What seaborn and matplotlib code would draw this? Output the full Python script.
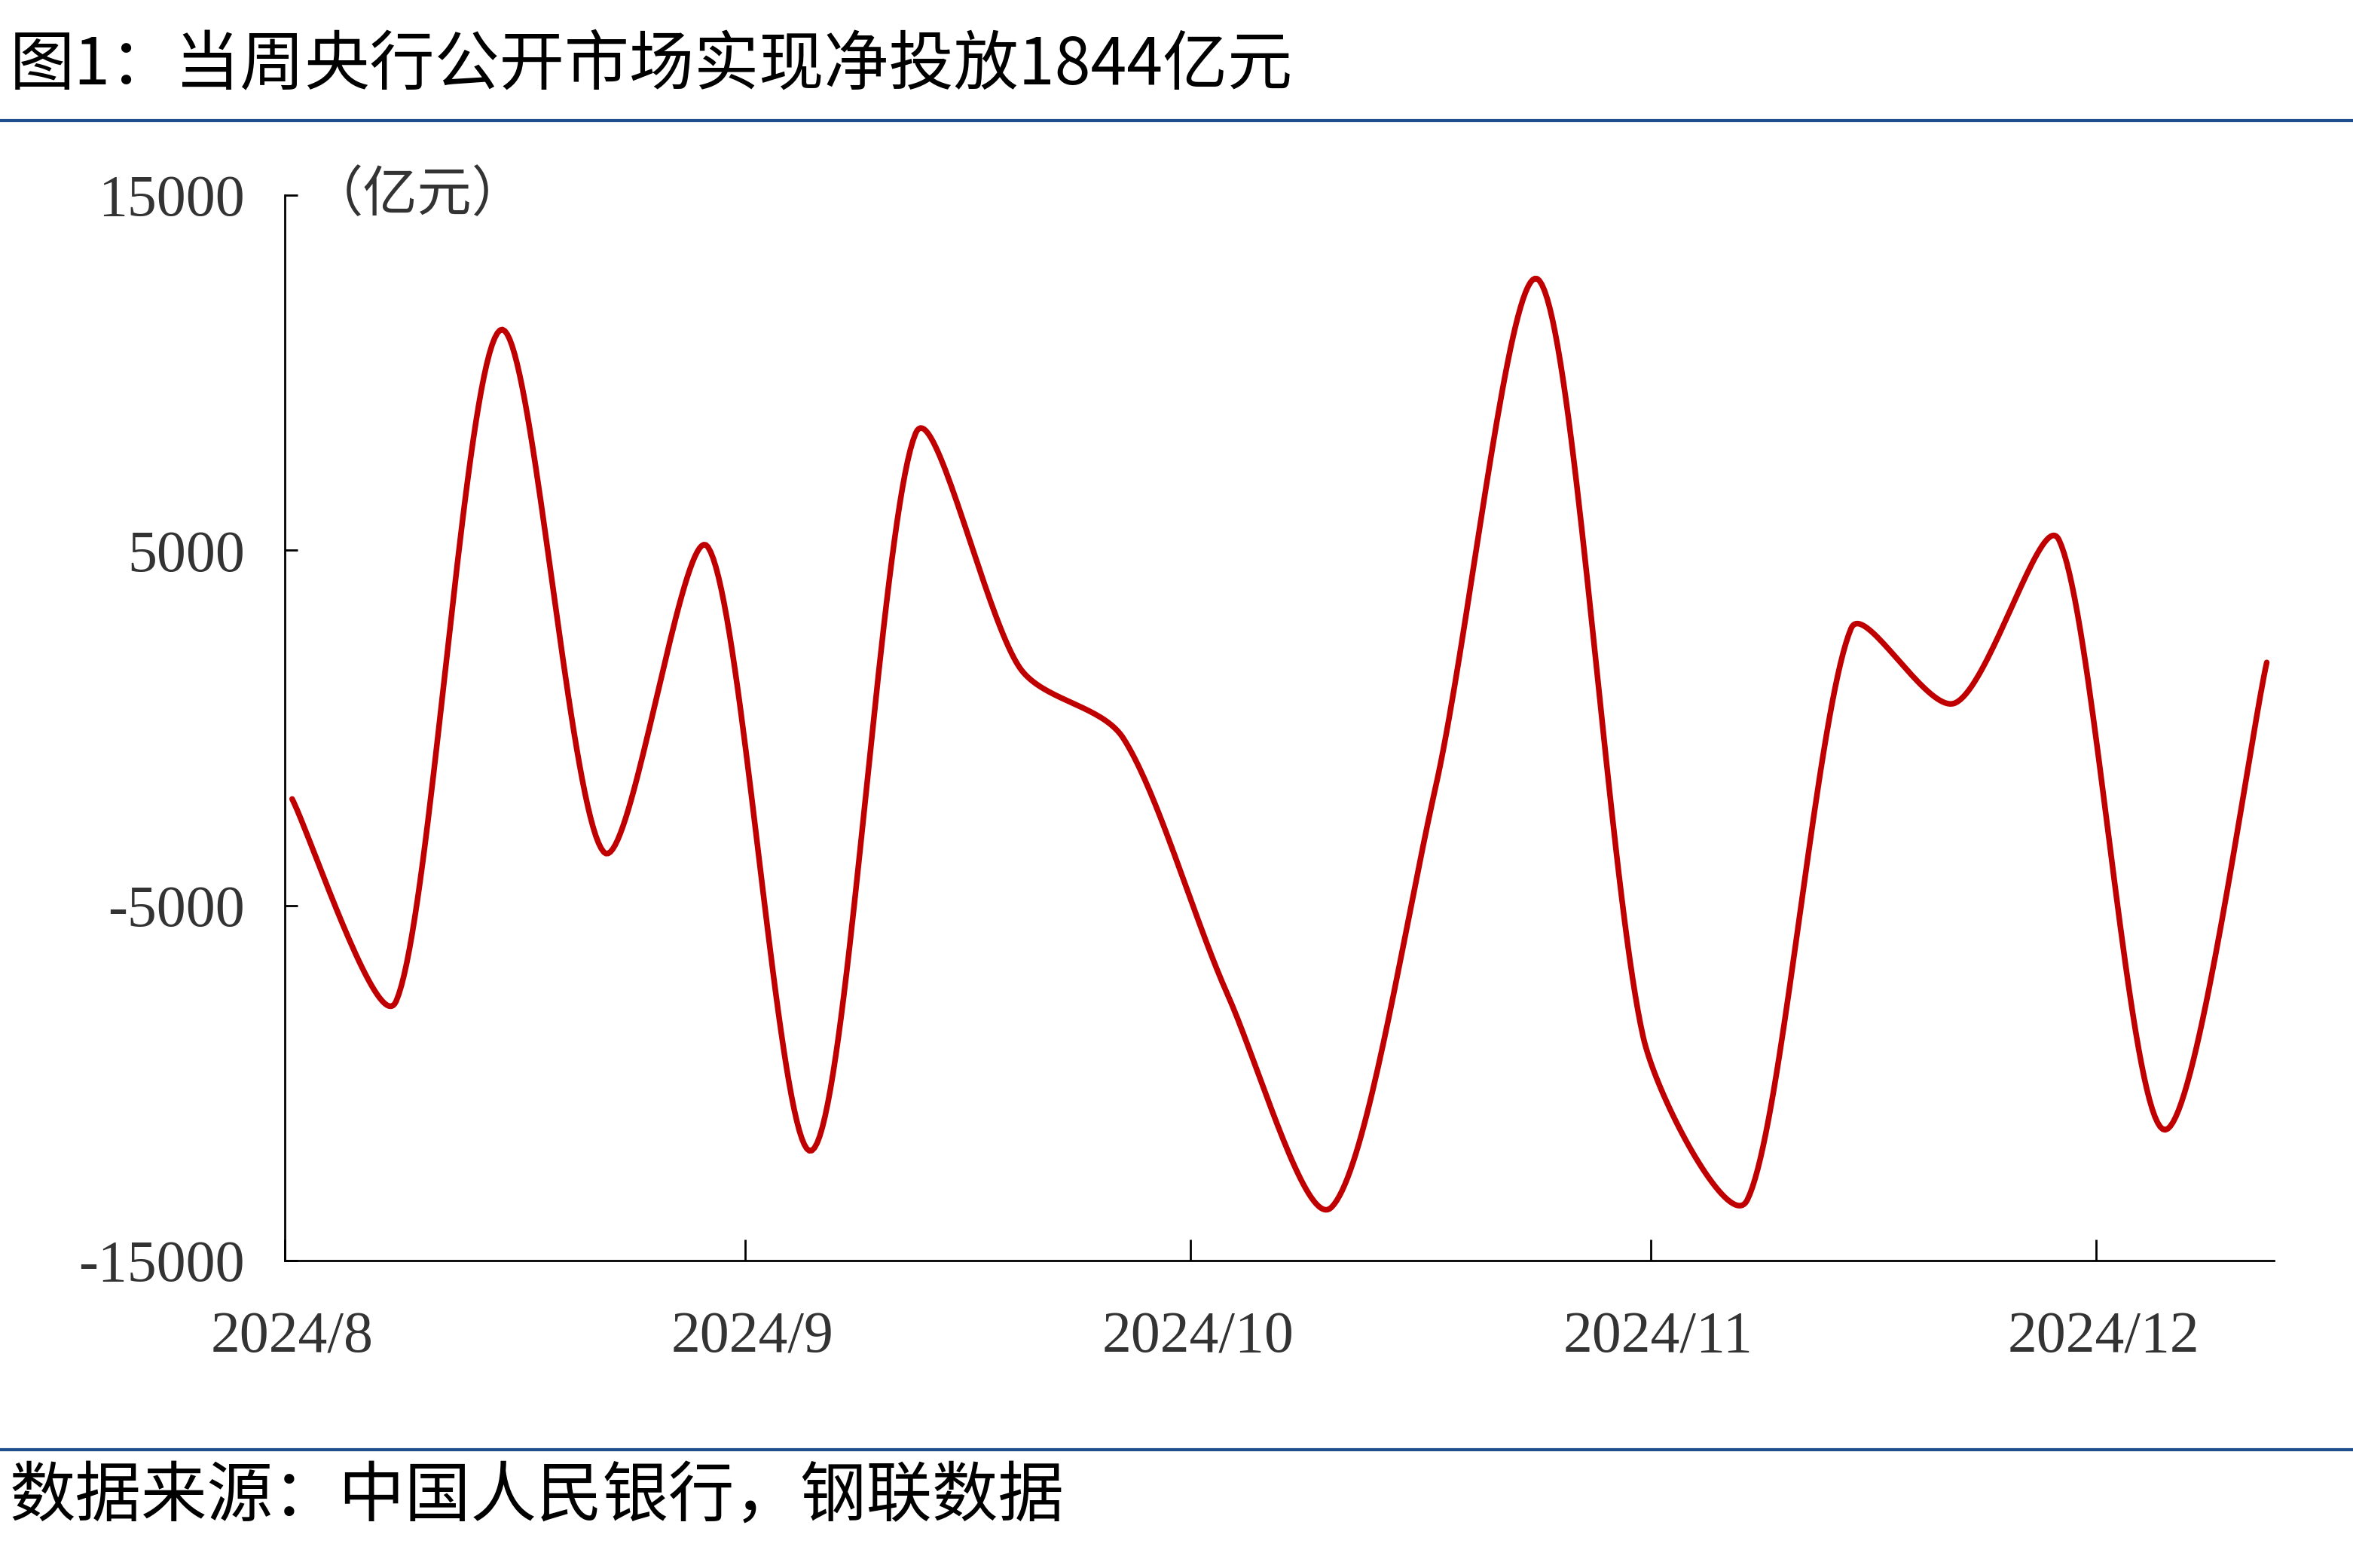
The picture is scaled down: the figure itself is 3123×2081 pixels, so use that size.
import numpy as np
import pandas as pd
import matplotlib
matplotlib.use("Agg")
import matplotlib.pyplot as plt
import matplotlib.dates as mdates
from matplotlib.lines import Line2D
from matplotlib.transforms import ScaledTranslation
import seaborn as sns

# weekly net injection of PBoC open market operations (100 mn yuan)
weeks = ["2024-08-01", "2024-08-08", "2024-08-15", "2024-08-22", "2024-08-29",
         "2024-09-05", "2024-09-12", "2024-09-19", "2024-09-26", "2024-10-03",
         "2024-10-10", "2024-10-17", "2024-10-24", "2024-10-31", "2024-11-07",
         "2024-11-14", "2024-11-21", "2024-11-28", "2024-12-05", "2024-12-12"]
net_injection = [-2000, -7700, 11200, -3500, 5100,
                 -11900, 8300, 1700, -300, -7500,
                 -13500, -1700, 12600, -8700, -13300,
                 2800, 700, 5300, -11300, 1844]

title = "图1：当周央行公开市场实现净投放1844亿元"
source = "数据来源：中国人民银行，钢联数据"
unit = "（亿元）"
y_ticks = [-15000, -5000, 5000, 15000]
x_range = ["2024-08-01", "2024-12-13"]

red = "#C00000"
blue = "#1F4E8C"
grey = "#333333"


def smooth(x, y, sx=9.9, sy=1 / 42.25, n=40):
    # excel-like smoothed line: bezier segments, handles shortened next to short segments
    P = np.column_stack([np.asarray(x, float) * sx, np.asarray(y, float) * sy])
    m = len(P)
    cin = P.copy()
    cout = P.copy()
    for i in range(m):
        p0 = P[max(i - 1, 0)]
        p2 = P[min(i + 1, m - 1)]
        tan = (p2 - p0) / 6
        d01 = np.hypot(*(P[i] - p0))
        d12 = np.hypot(*(p2 - P[i]))
        tot = d01 + d12
        if tot == 0:
            continue
        cout[i] = P[i] + tan * min(1.0, 2 * d12 / tot)
        cin[i] = P[i] - tan * min(1.0, 2 * d01 / tot)
    t = np.linspace(0, 1, n)[:, None]
    segs = []
    for i in range(m - 1):
        b = ((1 - t) ** 3 * P[i] + 3 * (1 - t) ** 2 * t * cout[i]
             + 3 * (1 - t) * t ** 2 * cin[i + 1] + t ** 3 * P[i + 1])
        segs.append(b)
    b = np.vstack(segs)
    return b[:, 0] / sx, b[:, 1] / sy


sns.set_style("white")
plt.rcParams["font.family"] = ["Liberation Serif", "Noto Sans CJK SC", "DejaVu Sans"]
plt.rcParams["axes.unicode_minus"] = False

# points sit in the middle of each day, as on an excel date axis
xnum = mdates.date2num(pd.to_datetime(weeks)) + 0.5
cx, cy = smooth(xnum, net_injection)
curve = pd.DataFrame({"date": cx, "value": cy})

fig = plt.figure(figsize=(15.615, 10.405), dpi=200)
ax = fig.add_axes([0.121, 0.196, 0.8455, 0.6795])

sns.lineplot(data=curve, x="date", y="value", ax=ax, color=red, lw=2.7,
             sort=False, estimator=None)

ax.set_xlim(mdates.date2num(pd.to_datetime(x_range)))
ax.set_ylim(-15000, 15000)
ax.set_yticks(y_ticks)
ax.xaxis.set_major_locator(mdates.MonthLocator())
ax.xaxis.set_major_formatter(
    plt.FuncFormatter(lambda v, p: f"{mdates.num2date(v).year}/{mdates.num2date(v).month}"))
ax.set_xlabel("")
ax.set_ylabel("")

for s in ["top", "right"]:
    ax.spines[s].set_visible(False)
for s in ["left", "bottom"]:
    ax.spines[s].set_color("black")
    ax.spines[s].set_linewidth(1.0)

ax.tick_params(axis="y", left=True, direction="in", length=6, width=1, pad=19,
               labelsize=28, labelcolor=grey, color="black")
ax.tick_params(axis="x", bottom=True, direction="in", length=10, width=1, pad=24,
               labelsize=28, labelcolor=grey, color="black")
shift = ScaledTranslation(0.05, 0, fig.dpi_scale_trans)
for lab in ax.get_xticklabels():
    lab.set_transform(lab.get_transform() + shift)

ax.text(0.012, 1.0, unit, transform=ax.transAxes, ha="left", va="center",
        fontsize=26, color=grey, family=["Noto Sans CJK SC", "DejaVu Sans"])

fig.text(0.004, 0.958, title, ha="left", va="center", fontsize=31, color="black",
         family=["Noto Sans CJK SC", "DejaVu Sans"])
fig.text(0.004, 0.045, source, ha="left", va="center", fontsize=31.5, color="black",
         family=["Noto Sans CJK SC", "DejaVu Sans"])

fig.add_artist(Line2D([0, 1], [0.923, 0.923], transform=fig.transFigure, color=blue, lw=1.5))
fig.add_artist(Line2D([0, 1], [0.0755, 0.0755], transform=fig.transFigure, color=blue, lw=1.5))

fig.savefig("out.png", dpi=200, facecolor="white")
